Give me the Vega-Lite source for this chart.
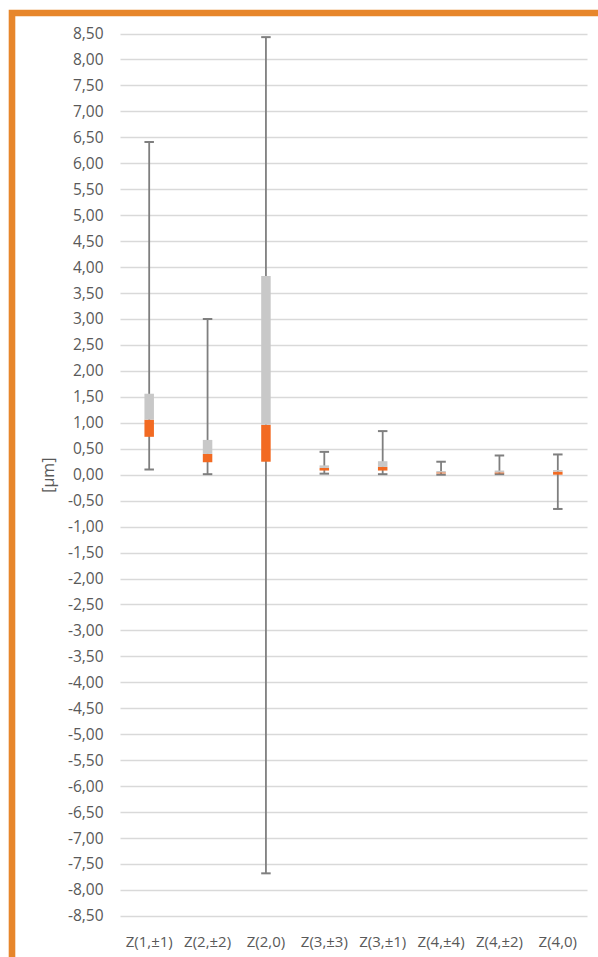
{
  "$schema": "https://vega.github.io/schema/vega-lite/v6.json",
  "width": 586,
  "height": 944,
  "autosize": {"type": "none"},
  "padding": {"left": 12, "top": 13, "right": 0, "bottom": 0},
  "background": "white",
  "config": {
    "font": "Open Sans",
    "locale": {"number": {"decimal": ",", "thousands": ".", "grouping": [3], "currency": ["", " €"], "minus": "-"}},
    "view": {"fill": "white", "stroke": "#E7862B", "strokeWidth": 6.6, "strokeCap": "round", "strokeDash": [586, 1530, 944]},
    "axisY": {
      "labelFont": "Open Sans",
      "labelFontSize": 15.5,
      "labelColor": "#595959",
      "titleFont": "Open Sans",
      "titleFontSize": 16,
      "titleFontWeight": "normal",
      "titleColor": "#595959",
      "gridColor": "#D9D9D9",
      "gridWidth": 1.3,
      "ticks": false,
      "domain": false
    },
    "axisX": {
      "labelFont": "Open Sans",
      "labelFontSize": 15,
      "labelColor": "#595959",
      "ticks": false,
      "domain": false,
      "grid": false
    }
  },
  "data": {
    "values": [
      {"term": "Z(1,±1)", "min": 0.10, "q1": 0.73, "median": 1.06, "q3": 1.56, "max": 6.41},
      {"term": "Z(2,±2)", "min": 0.01, "q1": 0.24, "median": 0.40, "q3": 0.67, "max": 3.00},
      {"term": "Z(2,0)", "min": -7.68, "q1": 0.25, "median": 0.96, "q3": 3.83, "max": 8.43},
      {"term": "Z(3,±3)", "min": 0.02, "q1": 0.08, "median": 0.13, "q3": 0.18, "max": 0.44},
      {"term": "Z(3,±1)", "min": 0.01, "q1": 0.08, "median": 0.15, "q3": 0.26, "max": 0.84},
      {"term": "Z(4,±4)", "min": 0.00, "q1": 0.025, "median": 0.045, "q3": 0.07, "max": 0.25},
      {"term": "Z(4,±2)", "min": 0.01, "q1": 0.025, "median": 0.045, "q3": 0.08, "max": 0.37},
      {"term": "Z(4,0)", "min": -0.66, "q1": 0.00, "median": 0.06, "q3": 0.09, "max": 0.39}
    ]
  },
  "encoding": {
    "x": {
      "field": "term",
      "type": "nominal",
      "sort": null,
      "scale": {"range": [108, 575], "paddingInner": 0, "paddingOuter": 0},
      "axis": {"title": null, "labelAngle": 0, "offset": -25, "labelPadding": 2, "labelOverlap": false}
    }
  },
  "layer": [
    {
      "mark": {"type": "rule", "color": "#7F7F7F", "strokeWidth": 1.8},
      "encoding": {
        "y": {
          "field": "min",
          "type": "quantitative",
          "title": "[µm]",
          "scale": {"domain": [-8.5, 8.5], "range": [902.9, 20.5], "nice": false, "zero": false},
          "axis": {
            "title": "[µm]",
            "values": [-8.5, -8, -7.5, -7, -6.5, -6, -5.5, -5, -4.5, -4, -3.5, -3, -2.5, -2, -1.5, -1, -0.5, 0, 0.5, 1, 1.5, 2, 2.5, 3, 3.5, 4, 4.5, 5, 5.5, 6, 6.5, 7, 7.5, 8, 8.5],
            "tickCount": 40,
            "format": ".2f",
            "offset": -93,
            "grid": true,
            "labelOverlap": false,
            "labelPadding": 2,
            "titlePadding": 11
          }
        },
        "y2": {"field": "max"}
      }
    },
    {
      "mark": {"type": "tick", "orient": "horizontal", "size": 9.5, "thickness": 2, "color": "#7F7F7F", "opacity": 1},
      "encoding": {
        "y": {"field": "max", "type": "quantitative", "title": "[µm]"}
      }
    },
    {
      "mark": {"type": "tick", "orient": "horizontal", "size": 9.5, "thickness": 2, "color": "#7F7F7F", "opacity": 1},
      "encoding": {
        "y": {"field": "min", "type": "quantitative", "title": "[µm]"}
      }
    },
    {
      "mark": {"type": "bar", "color": "#F26A22", "width": 9.5},
      "encoding": {
        "y": {"field": "q1", "type": "quantitative", "title": "[µm]"},
        "y2": {"field": "median"}
      }
    },
    {
      "mark": {"type": "bar", "color": "#C8C8C8", "width": 9.5},
      "encoding": {
        "y": {"field": "median", "type": "quantitative", "title": "[µm]"},
        "y2": {"field": "q3"}
      }
    }
  ]
}
